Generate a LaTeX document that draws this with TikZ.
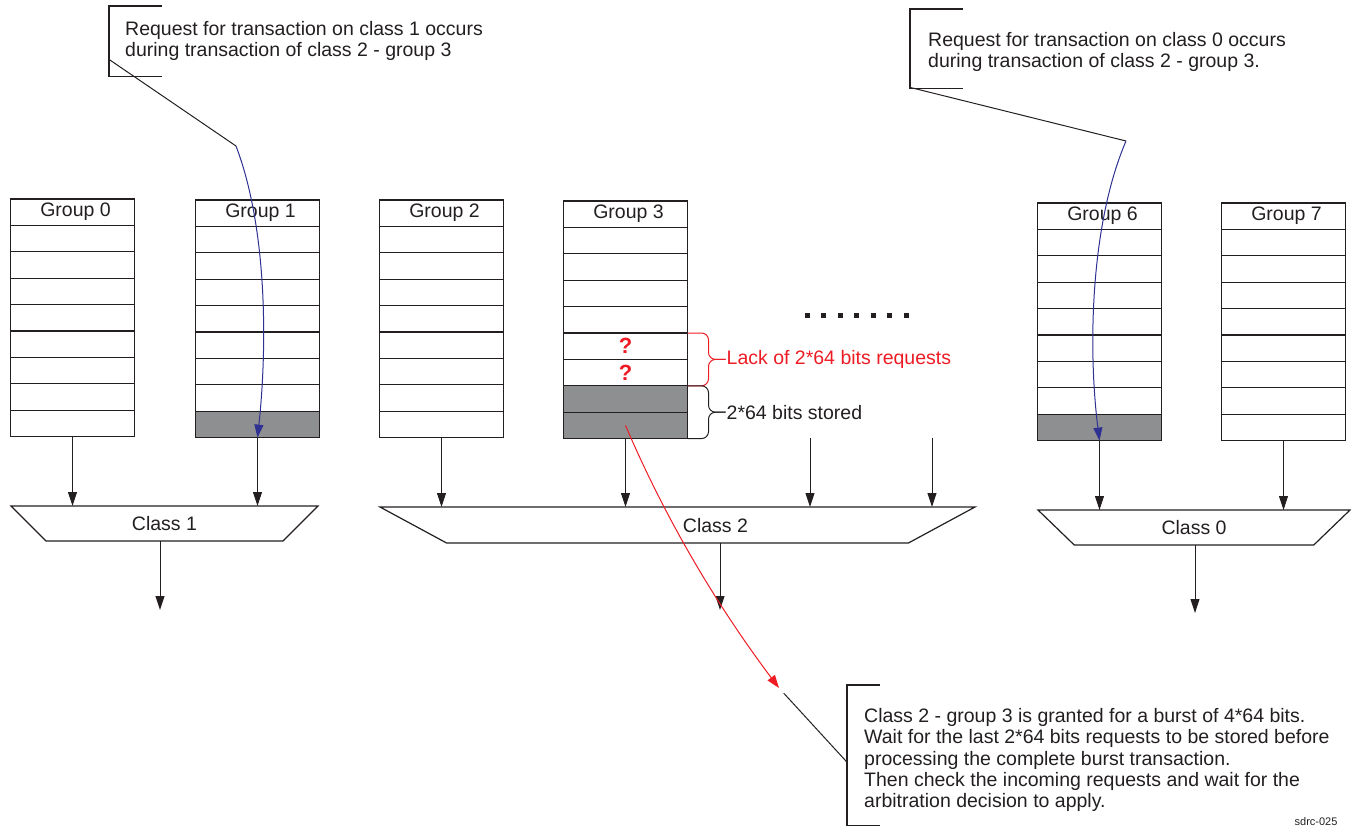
\documentclass[tikz,border=0pt]{standalone}
\usepackage{fontspec}
\setmainfont{Liberation Sans}
\usepackage{tikz}
\usetikzlibrary{arrows.meta, shapes.geometric, calc, positioning}
\definecolor{inkBlack}{RGB}{35,31,32}
\definecolor{cellGray}{RGB}{142,143,145}
\definecolor{reqBlue}{RGB}{46,49,146}
\definecolor{lackRed}{RGB}{237,28,36}

\begin{document}
\begin{tikzpicture}[
    x=1pt, y=-1pt,
    font=\fontsize{19.5}{21.3}\selectfont, text=inkBlack,
    % One entry of a group FIFO: \node[cell] or \node[stored]
    cell/.style={
        rectangle, draw=inkBlack, line width=1.2pt,
        minimum width=124pt, minimum height=26.4pt,
        inner sep=0pt, outer sep=0pt
    },
    stored/.style={cell, fill=cellGray},
    % Class arbiter: inverted trapezium, \node[arbiter=ANGLE]
    arbiter/.style={
        trapezium, shape border rotate=180,
        trapezium left angle=#1, trapezium right angle=#1,
        trapezium stretches body,
        draw=inkBlack, line width=1.2pt,
        text height=14pt, text depth=0pt,
        inner xsep=0pt, inner ysep=10.5pt, outer sep=0pt
    },
    arbiter/.default=45,
    flow/.style={-{Triangle[length=14pt, width=9pt]}, draw=inkBlack, line width=1pt},
    note/.style={anchor=north west, align=left, inner ysep=0pt},
    bracket/.style={draw=inkBlack, line width=1.2pt},
    leader/.style={draw=inkBlack, line width=1pt},
    lbl/.style={anchor=west, inner sep=1pt},
    qmark/.style={font=\bfseries\fontsize{22}{22}\selectfont, text=lackRed}
]
\useasboundingbox (0,0) rectangle (1351,829);
% ── GROUP FIFOs: header + 8 entries, last \n entries stored ───
\foreach \g/\cx/\ty/\n in {0/72.5/199/0, 1/257.5/200/1, 2/441.5/200/0,
                           3/625.5/201/2, 6/1099.5/203/1, 7/1283.5/203/0}{
    \node[cell, anchor=north] (g\g h) at (\cx,\ty) {\hspace*{6pt}Group \g};
    \foreach \r in {1,...,8}{
        \ifnum\r>\numexpr8-\n\relax \def\sty{stored}\else \def\sty{cell}\fi
        \node[\sty, anchor=north] (g\g r\r) at (\cx,\ty+26.4*\r) {};
    }
}
\node[qmark] (q5) at (g3r5) {?};
\node[qmark] (q6) at (g3r6) {?};
% more groups follow
\foreach \i in {0,...,6}
    \fill[inkBlack] (804.5+16.5*\i,312.5) rectangle ++(5,5);
% ── CLASS ARBITERS ───────────────────────────────────────────
\node[arbiter=45, minimum width=307pt]   (c1) at (164.5,523.5) {Class 1};
\node[arbiter=28.4, minimum width=595pt, inner ysep=11pt]
                                         (c2) at (677.5,525) {\hspace*{76pt}Class 2};
\node[arbiter=44, minimum width=312pt]   (c0) at (1194,527.5) {Class 0};
% ── ARROWS: groups into arbiters ─────────────────────────────
\coordinate (c2in4) at (810,438);
\coordinate (c2in5) at (932,438);
\draw[flow] (g0r8.south) -- (g0r8.south |- c1.north);
\draw[flow] (g1r8.south) -- (g1r8.south |- c1.north);
\draw[flow] (g2r8.south) -- (g2r8.south |- c2.north);
\draw[flow] (g3r8.south) -- (g3r8.south |- c2.north);
\draw[flow] (c2in4)      -- (c2in4 |- c2.north);
\draw[flow] (c2in5)      -- (c2in5 |- c2.north);
\draw[flow] (g6r8.south) -- (g6r8.south |- c0.north);
\draw[flow] (g7r8.south) -- (g7r8.south |- c0.north);
% ── ARROWS: arbiter outputs ──────────────────────────────────
\coordinate (c1out) at (160,610);
\coordinate (c2out) at (720,610);
\coordinate (c0out) at (1195,613);
\draw[flow] (c1out |- c1.south) -- (c1out);
\draw[flow] (c2out |- c2.south) -- (c2out);
\draw[flow] (c0out |- c0.south) -- (c0out);
% ── BRACES on group 3 ────────────────────────────────────────
\node[lbl, text=lackRed] (lack)
    at ($(g3r5.north east)!0.5!(g3r6.south east)+(38,0)$) {Lack of 2*64 bits requests};
\node[lbl] (have)
    at ($(g3r7.north east)!0.5!(g3r8.south east)+(38,0)$) {2*64 bits stored};
\draw[lackRed, line width=1pt, rounded corners=7pt]
    (g3r5.north east) -- ++(21,0) |- (lack.west);
\draw[lackRed, line width=1pt, rounded corners=7pt]
    (g3r6.south east) -- ++(21,0) |- (lack.west);
\draw[inkBlack, line width=1pt, rounded corners=7pt]
    (g3r7.north east) -- ++(21,0) |- (have.west);
\draw[inkBlack, line width=1pt, rounded corners=7pt]
    (g3r8.south east) -- ++(21,0) |- (have.west);
% ── CALLOUTS ─────────────────────────────────────────────────
\node[note, inner xsep=16pt, minimum height=70pt] (req1) at (109,6)
    {Request for transaction on class 1 occurs\\
     during transaction of class 2 - group 3};
\draw[bracket] ([xshift=53pt]req1.north west) -- (req1.north west)
    -- (req1.south west) -- ++(53,0);
\node[note, inner xsep=18pt, minimum height=85pt] (req0) at (910,9)
    {Request for transaction on class 0 occurs\\
     during transaction of class 2 - group 3.};
\draw[bracket] ([xshift=53pt]req0.north west) -- (req0.north west)
    -- ([yshift=6pt]req0.south west) -- ++(53,0);
\node[note, inner xsep=17pt, minimum height=150pt] (grant) at (847,685)
    {Class 2 - group 3 is granted for a burst of 4*64 bits.\\
     Wait for the last 2*64 bits requests to be stored before\\
     processing the complete burst transaction.\\
     Then check the incoming requests and wait for the\\
     arbitration decision to apply.};
\draw[bracket] ([xshift=33pt]grant.north west) -- (grant.north west)
    -- ([yshift=10pt]grant.south west) -- ++(33,0);
% ── ARROWS: requests and grant ───────────────────────────────
\coordinate (bend1) at (236,146);
\coordinate (bend0) at (1126,141);
\coordinate (grantTip) at (779,688);
\draw[leader] ([yshift=17pt]req1.south west) -- (bend1);
\draw[reqBlue, line width=1pt, -{Triangle[length=13pt, width=9pt]}]
    (bend1) .. controls (268,230) and (267,350) .. (g1r8.south);
\draw[leader] ([yshift=7pt]req0.south west) -- (bend0);
\draw[reqBlue, line width=1pt, -{Triangle[length=13pt, width=9pt]}]
    (bend0) .. controls (1090,225) and (1088,350) .. (g6r8.south);
\draw[lackRed, line width=1pt, -{Triangle[length=13pt, width=9pt]}]
    (g3r8.center) .. controls (662,511) and (712,599) .. (grantTip);
\draw[leader, shorten >=7pt] ([yshift=-2pt]grant.west) -- (grantTip);
\node[font=\fontsize{11}{13}\selectfont, anchor=east] (figid) at (1341,822) {sdrc-025};
\end{tikzpicture}
\end{document}
